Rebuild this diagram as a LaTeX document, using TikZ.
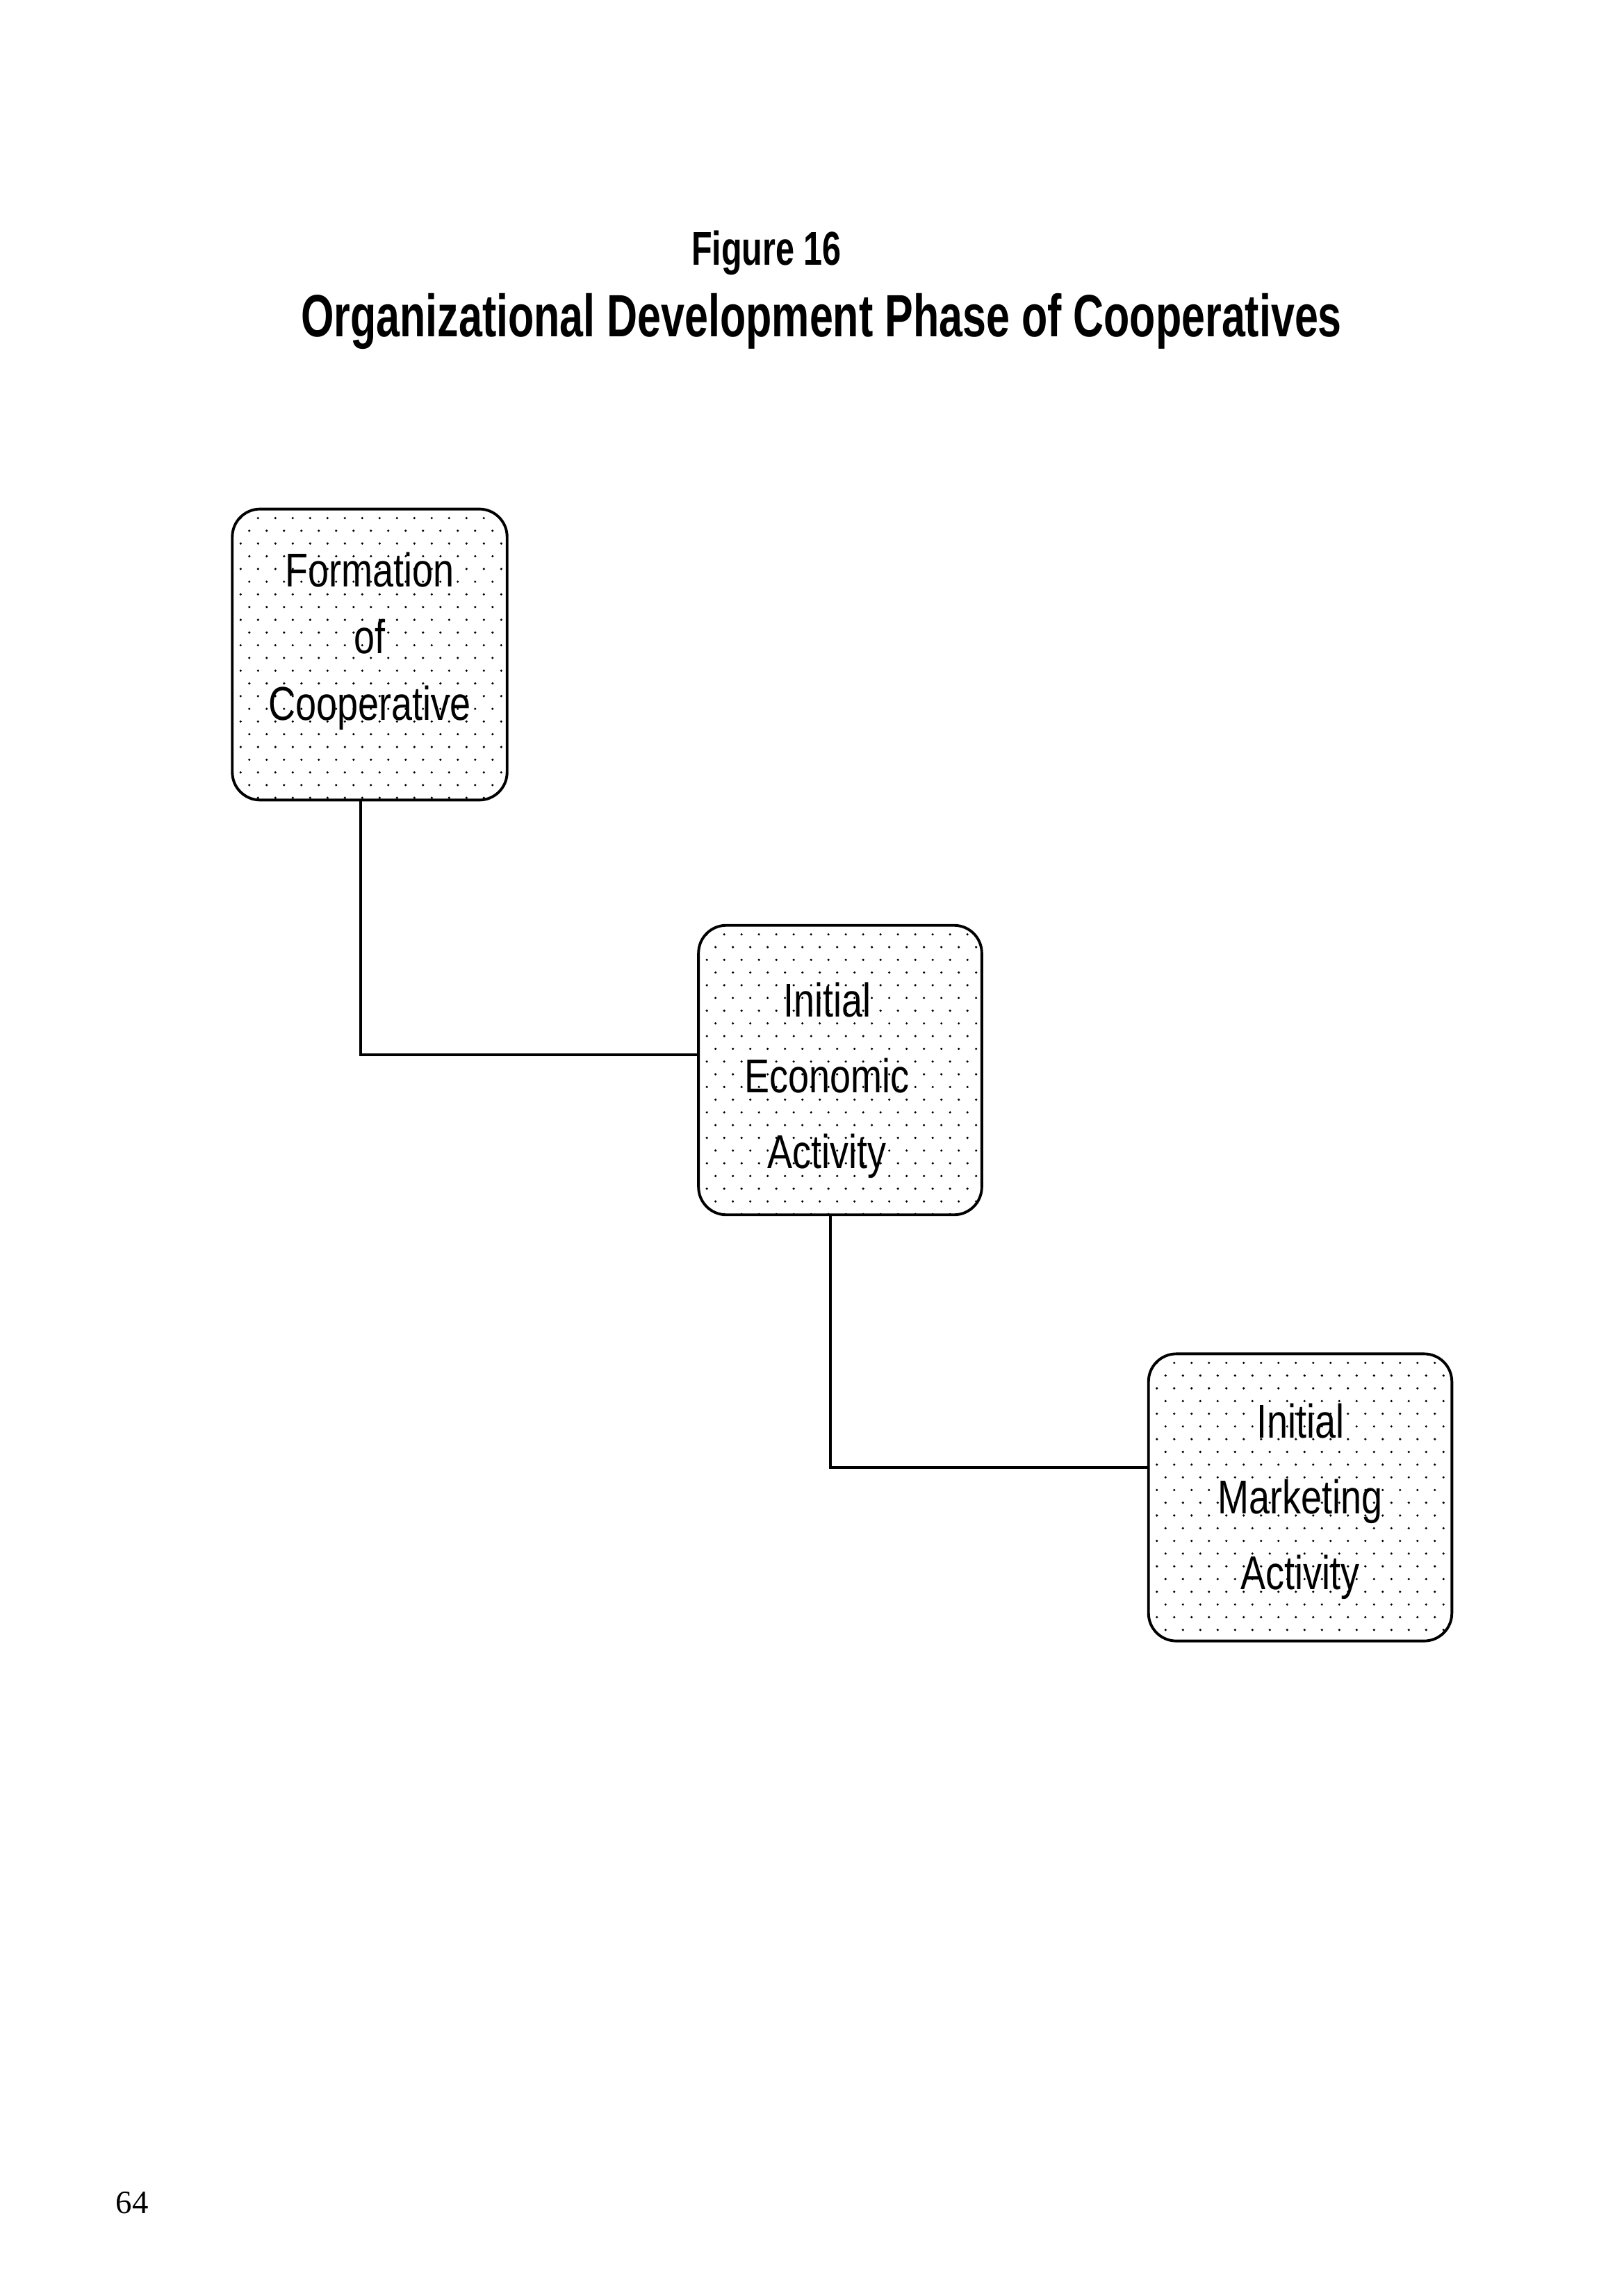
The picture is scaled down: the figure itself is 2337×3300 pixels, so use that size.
\documentclass[tikz,border=0pt]{standalone}
\usepackage{fontspec}
\setmainfont{Liberation Serif}
\newfontfamily\boxfont[FakeStretch=0.79]{Liberation Sans}
\newfontfamily\titlefont[FakeStretch=0.71]{Liberation Sans}

\begin{document}
\begin{tikzpicture}[x=0.009cm, y=-0.009cm]
    % Set up styles for the phase boxes and links
    \tikzstyle{phase} = [draw, line width=1pt, rounded corners=0.36cm, align=center, inner sep=0pt,
        font=\boxfont\fontsize{17.5}{28}\selectfont,
        path picture={
            \foreach \r [evaluate=\r as \off using {mod(\r,2)*12.5}] in {0,...,24}
                \foreach \c in {0,...,18}
                    \fill ([shift={(\c*25+\off+12, \r*18.3+13)}]path picture bounding box.north west) circle (0.016cm);
        }]
    \tikzstyle{link} = [line width=1pt]

    % Page frame
    \useasboundingbox (0,0) rectangle (2337,3300);

    % Titles
    \node (fig) at (1103,382) [anchor=base, font=\titlefont\bfseries\fontsize{17.5}{20}\selectfont] {Figure 16};
    \node (title) at (1182,485) [anchor=base, font=\titlefont\bfseries\fontsize{22}{26}\selectfont]
        {Organizational Development Phase of Cooperatives};

    % Draw the three phases
    \node (form) at (532,942) [phase, minimum width=3.56cm, minimum height=3.77cm, text depth=0.47cm,
        font=\boxfont\fontsize{17.5}{24.5}\selectfont] {Formation\\of\\Cooperative};
    \node (econ) at (1209,1540) [phase, minimum width=3.67cm, minimum height=3.75cm, text height=2.68cm]
        {Initial\hspace*{0.34cm}\mbox{}\\Economic\hspace*{0.34cm}\mbox{}\\Activity\hspace*{0.34cm}\mbox{}};
    \node (mark) at (1871,2155) [phase, minimum width=3.93cm, minimum height=3.72cm, text height=2.52cm]
        {Initial\\Marketing\\Activity};

    % Link the phases
    \draw[link] ([xshift=-0.12cm]form.south) |- ([yshift=0.2cm]econ.west);
    \draw[link] ([xshift=-0.13cm]econ.south) |- ([yshift=0.39cm]mark.west);

    % Page number
    \node (page) at (190,3185) [anchor=base, font=\fontsize{12}{14}\selectfont] {64};

\end{tikzpicture}
\end{document}
